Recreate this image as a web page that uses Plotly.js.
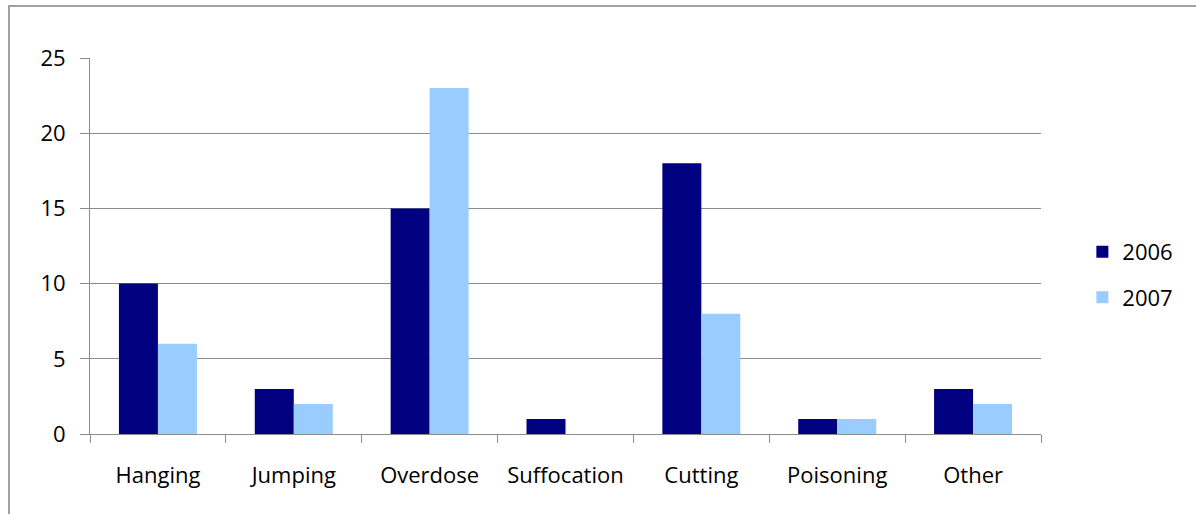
<!DOCTYPE html>
<html>
<head>
<meta charset="utf-8">
<script src="https://cdn.plot.ly/plotly-3.0.1.min.js"></script>
<style>
  body { margin: 0; padding: 0; background: #fff; }
  #wrap { position: relative; width: 1196px; height: 514px; overflow: hidden; }
  #frame { position: absolute; left: 8px; top: 5px; width: 1300px; height: 600px;
           border-top: 2px solid #a0a0a0; border-left: 2px solid #a0a0a0; box-sizing: border-box; }
  #chart { position: absolute; left: 0; top: 0; width: 1196px; height: 514px; }
</style>
</head>
<body>
<div id="wrap">
  <div id="frame"></div>
  <div id="chart"></div>
</div>
<script>
var methods = ['Hanging', 'Jumping', 'Overdose', 'Suffocation', 'Cutting', 'Poisoning', 'Other'];
var values2006 = [10, 3, 15, 1, 18, 1, 3];
var values2007 = [6, 2, 23, 0, 8, 1, 2];
var yTicks = [0, 5, 10, 15, 20, 25];

var FONT = '"Open Sans", "Noto Sans", sans-serif';

function makeBar(yvals, name, color) {
  return {
    type: 'bar',
    x: methods,
    y: yvals,
    name: name,
    legendgroup: name,
    marker: { color: color, line: { width: 0 } },
    hoverinfo: 'x+y+name'
  };
}

var traces = [
  makeBar(values2006, '2006', '#000080'),
  makeBar(values2007, '2007', '#99ccff')
];

var layout = {
  width: 1196,
  height: 514,
  paper_bgcolor: 'rgba(0,0,0,0)',
  plot_bgcolor: 'rgba(0,0,0,0)',
  margin: { l: 90, r: 155, t: 58, b: 80, pad: 0 },
  font: { family: FONT, size: 22, color: '#000' },
  barmode: 'group',
  bargap: 0.426,
  bargroupgap: 0,
  xaxis: {
    type: 'category',
    showline: true,
    linecolor: '#8c8c8c',
    linewidth: 1,
    ticks: 'outside',
    tickson: 'boundaries',
    ticklen: 8,
    tickcolor: '#8c8c8c',
    ticklabelstandoff: 22,
    showgrid: false,
    zeroline: false
  },
  yaxis: {
    range: [0, 25],
    tickvals: yTicks,
    showline: true,
    linecolor: '#8c8c8c',
    linewidth: 1,
    ticks: 'outside',
    ticklen: 9,
    tickcolor: '#8c8c8c',
    ticklabelstandoff: 10,
    showgrid: true,
    gridcolor: '#8c8c8c',
    gridwidth: 1,
    zeroline: false
  },
  showlegend: true,
  legend: {
    x: 1.0435,
    y: 0.423,
    xanchor: 'left',
    yanchor: 'middle',
    traceorder: 'grouped',
    tracegroupgap: 14,
    font: { family: FONT, size: 22, color: '#000' },
    itemwidth: 30
  }
};

Plotly.newPlot('chart', traces, layout, { displayModeBar: false, staticPlot: true });
</script>
</body>
</html>
